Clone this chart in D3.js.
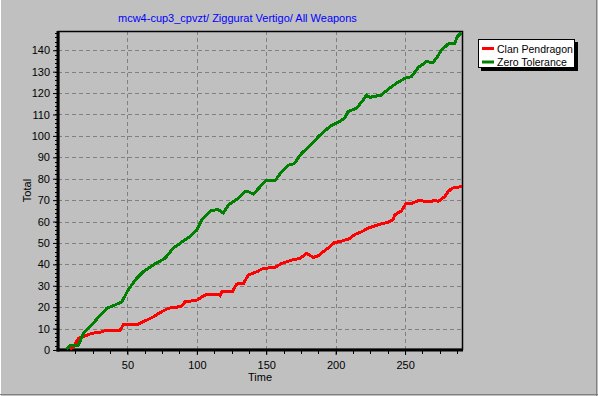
<!DOCTYPE html>
<html>
<head>
<meta charset="utf-8">
<script src="https://cdn.jsdelivr.net/npm/d3@7"></script>
<style>
  body { margin: 0; background: #c0c0c0; }
  svg { display: block; font-family: "Liberation Sans", Arial, sans-serif; }
</style>
</head>
<body>
<div id="chart"></div>
<script>
const TITLE = "mcw4-cup3_cpvzt/ Ziggurat Vertigo/ All Weapons"
const SERIES_NAMES = ["Clan Pendragon", "Zero Tolerance"]
const SERIES_COLORS = ["#ff0000", "#008000"]

const clanTime = [8.8, 11.2, 14.7, 18.3, 24.4, 30.4, 35.2, 44.8, 47, 56.8, 61.5, 68.7, 74.7, 79.5, 85.5, 89.1, 91.5, 100, 107, 115.5, 116.7, 117.9, 125.5, 128.7, 133.5, 137, 143, 147.8, 156.3, 161, 168.2, 174.2, 179, 183.8, 187, 191, 195.8, 199, 205, 210, 214, 218, 223.4, 230.6, 237.8, 241.4, 242.6, 247.4, 250.5, 255, 259.4, 269, 271, 274, 278.6, 281, 284, 289.4, 291]
const clanTotal = [0.3, 1.5, 5.4, 6.2, 7.8, 8.3, 9.3, 9.3, 11.7, 11.7, 13.2, 15.5, 17.9, 19.5, 20, 20.5, 22.5, 23.3, 26.1, 26.1, 25.3, 27.2, 27.2, 30.8, 31, 35, 36.5, 38.1, 38.6, 40.4, 42, 42.8, 45.1, 43.3, 43.8, 45.9, 48.2, 50.1, 51, 52, 54, 55, 56.9, 58.5, 59.7, 60.8, 63.1, 65, 68.3, 68.5, 69.7, 69.4, 70, 69.4, 71.7, 74, 75.6, 76.2, 76.5]

const zeroTime = [6.3, 8.8, 14.5, 18.3, 24.4, 30.4, 35.2, 41, 46, 50.5, 56.5, 61.3, 68.5, 77, 82.9, 89.4, 94.9, 100, 103.5, 110.7, 115.5, 119, 122.7, 129.9, 134.7, 137, 140.7, 145.5, 150.3, 156.3, 160, 165.8, 170, 175.5, 182.7, 188.6, 192.2, 195.8, 201.8, 206.6, 209, 215, 219.8, 222.2, 224.6, 233, 237.8, 243.8, 249.8, 254.6, 259.4, 265.4, 270, 272.6, 276.2, 281, 285.8, 287.7, 290.6]
const zeroTotal = [0.5, 2, 2, 7.8, 11.7, 16.3, 19.5, 21, 22.5, 28, 33.4, 36.5, 39.7, 42.8, 47.5, 50.5, 52.9, 56, 60.7, 65.3, 65.5, 64, 67.7, 70.8, 73.9, 74, 72.8, 76.2, 79.3, 79, 82.4, 86.3, 87, 91.8, 96.4, 100.3, 102.3, 104.4, 106.4, 108.3, 111.4, 112.9, 116.8, 119.1, 118, 119.1, 121.8, 124.6, 126.9, 127.7, 131.9, 134.7, 134.2, 136.3, 140.1, 142.9, 143.3, 146.4, 148.3]

const xTicks = [50, 100, 150, 200, 250]
const yTicks = [0, 10, 20, 30, 40, 50, 60, 70, 80, 90, 100, 110, 120, 130, 140]

const W = 598, H = 396
const MARGIN = { TOP: 31, LEFT: 58, RIGHT: 136, BOTTOM: 46 }
const WIDTH = W - MARGIN.LEFT - MARGIN.RIGHT
const HEIGHT = H - MARGIN.TOP - MARGIN.BOTTOM

const svg = d3.select("#chart").append("svg")
  .attr("width", W)
  .attr("height", H)

svg.append("rect").attr("width", W).attr("height", H).attr("fill", "#c0c0c0")
// window frame edges
svg.append("line").attr("x1", 0.5).attr("x2", 0.5).attr("y1", 0).attr("y2", H).attr("stroke", "#ffffff")
svg.append("line").attr("x1", W - 1.5).attr("x2", W - 1.5).attr("y1", 0).attr("y2", H).attr("stroke", "#808080")
svg.append("line").attr("x1", 0).attr("x2", W).attr("y1", H - 1.5).attr("y2", H - 1.5).attr("stroke", "#808080")

const x = d3.scaleLinear().domain([0, 291]).range([0, WIDTH])
const y = d3.scaleLinear().domain([0, 149]).range([HEIGHT, 0])

const g = svg.append("g").attr("transform", `translate(${MARGIN.LEFT}, ${MARGIN.TOP})`)

g.append("defs").append("clipPath").attr("id", "clip")
  .append("rect").attr("width", WIDTH).attr("height", HEIGHT)

// grid
g.selectAll(".vgrid").data(xTicks).enter().append("line")
  .attr("x1", d => Math.round(x(d)) + 0.5).attr("x2", d => Math.round(x(d)) + 0.5)
  .attr("y1", 0).attr("y2", HEIGHT)
  .attr("stroke", "#808080").attr("stroke-dasharray", "4,3")
g.selectAll(".hgrid").data(yTicks.filter(d => d > 0)).enter().append("line")
  .attr("y1", d => Math.round(y(d)) + 0.5).attr("y2", d => Math.round(y(d)) + 0.5)
  .attr("x1", 0).attr("x2", WIDTH)
  .attr("stroke", "#808080").attr("stroke-dasharray", "4,3")

// minor ticks
const xMinor = d3.range(12.5, 291, 12.5)
g.selectAll(".xminor").data(xMinor).enter().append("line")
  .attr("x1", d => Math.round(x(d)) + 0.5).attr("x2", d => Math.round(x(d)) + 0.5)
  .attr("y1", HEIGHT).attr("y2", HEIGHT + 4)
  .attr("stroke", "#000")
const yMinor = d3.range(2, 149, 2)
g.selectAll(".yminor").data(yMinor).enter().append("line")
  .attr("y1", d => Math.round(y(d)) + 0.5).attr("y2", d => Math.round(y(d)) + 0.5)
  .attr("x1", -3).attr("x2", 0)
  .attr("stroke", "#000")

// axes
const xAxis = g.append("g").attr("transform", `translate(0, ${HEIGHT})`)
  .call(d3.axisBottom(x).tickValues(xTicks).tickSize(5).tickPadding(6))
const yAxis = g.append("g")
  .call(d3.axisLeft(y).tickValues(yTicks).tickSize(5).tickPadding(3))
;[xAxis, yAxis].forEach(a => {
  a.select(".domain").remove()
  a.selectAll("text").attr("font-size", 11).attr("fill", "#000").attr("font-family", "Liberation Sans, Arial, sans-serif")
  a.selectAll("line").attr("stroke", "#000")
})

// frame
g.append("rect").attr("x", 0.5).attr("y", 0.5).attr("width", WIDTH).attr("height", HEIGHT - 1)
  .attr("fill", "none").attr("stroke", "#000").attr("stroke-width", 1.5)
g.append("line").attr("x1", 0).attr("x2", 0).attr("y1", 0).attr("y2", HEIGHT + 1.5)
  .attr("stroke", "#000").attr("stroke-width", 3)
g.append("line").attr("x1", -1.5).attr("x2", WIDTH + 1).attr("y1", HEIGHT).attr("y2", HEIGHT)
  .attr("stroke", "#000").attr("stroke-width", 3)

// lines
const line = d3.line().x(d => x(d[0])).y(d => y(d[1]))
const series = [
  d3.zip(clanTime, clanTotal),
  d3.zip(zeroTime, zeroTotal)
]
g.append("g").attr("clip-path", "url(#clip)")
  .selectAll("path").data(series).enter().append("path")
  .attr("d", line)
  .attr("fill", "none")
  .attr("stroke", (d, i) => SERIES_COLORS[i])
  .attr("stroke-width", 3)
  .attr("stroke-linejoin", "miter")
  .attr("shape-rendering", "crispEdges")

// title and axis labels
svg.append("text").attr("x", 118).attr("y", 22)
  .attr("font-size", 11).attr("fill", "#0000ff").text(TITLE)
svg.append("text").attr("x", MARGIN.LEFT + WIDTH / 2).attr("y", 381)
  .attr("text-anchor", "middle").attr("font-size", 11).text("Time")
svg.append("text").attr("transform", `translate(30.5, ${MARGIN.TOP + HEIGHT / 2}) rotate(-90)`)
  .attr("text-anchor", "middle").attr("font-size", 11).text("Total")

// legend
const lg = svg.append("g").attr("transform", "translate(478, 39)")
lg.append("rect").attr("x", 3).attr("y", 3).attr("width", 97).attr("height", 29).attr("fill", "#000")
lg.append("rect").attr("x", 0.5).attr("y", 0.5).attr("width", 96).attr("height", 28)
  .attr("fill", "#fff").attr("stroke", "#000")
SERIES_NAMES.forEach((name, i) => {
  lg.append("line").attr("x1", 4).attr("x2", 16).attr("y1", 9.5 + i * 13.5).attr("y2", 9.5 + i * 13.5)
    .attr("stroke", SERIES_COLORS[i]).attr("stroke-width", 3)
  lg.append("text").attr("x", 19).attr("y", 13.5 + i * 13.5).attr("font-size", 10.5).text(name)
})
</script>
</body>
</html>
